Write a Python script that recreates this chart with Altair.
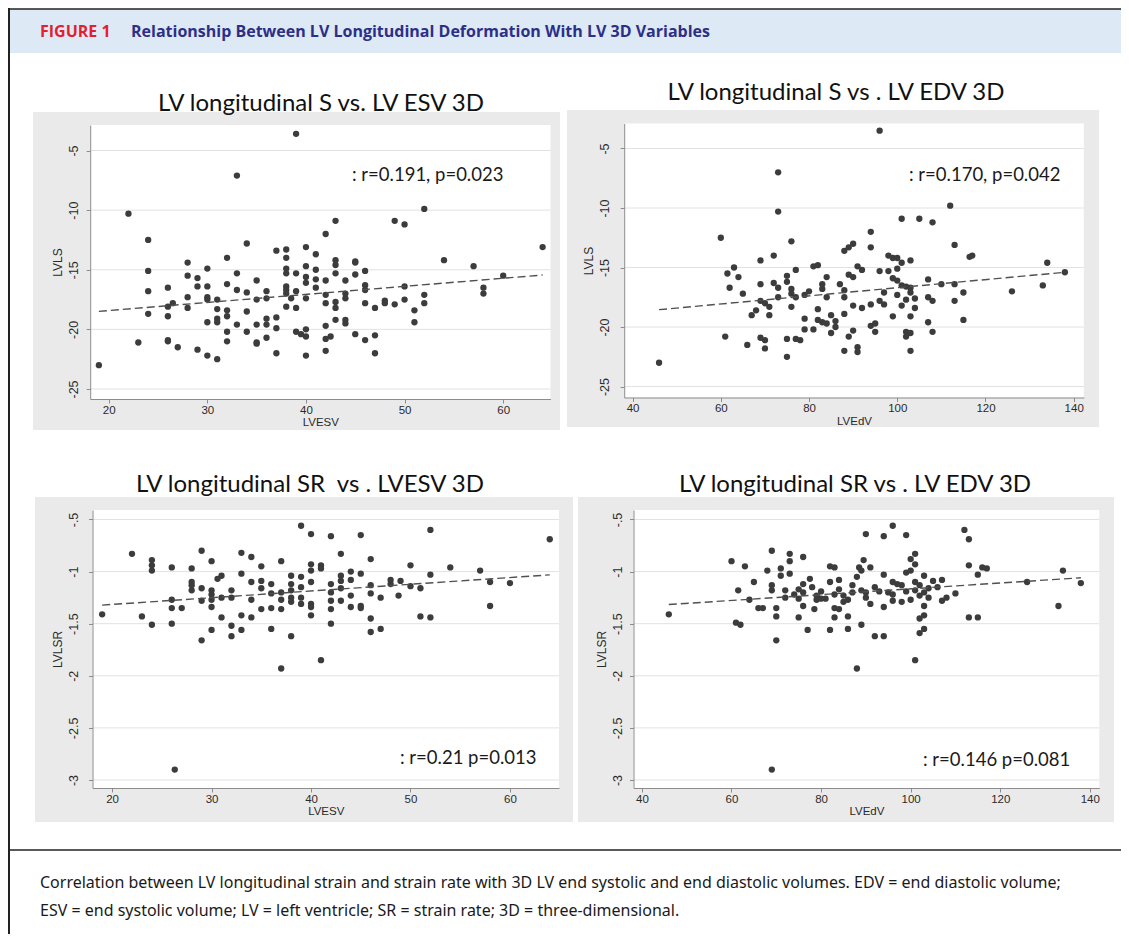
import altair as alt
import pandas as pd

W, H = 1113, 926
M = 8  # page margin: chart pixel = page pixel - M

# ---------------- data ----------------
xt_esv = [20, 30, 40, 50, 60]
xt_edv = [40, 60, 80, 100, 120, 140]
yt_ls = [-25, -20, -15, -10, -5]
yt_lsr = [-3, -2.5, -2, -1.5, -1, -0.5]

p1_esv = [
    19, 22, 23,
    24, 24, 24, 24,
    26, 26, 26, 26, 26, 26.5,
    27,
    28, 28, 28, 28,
    29, 29, 29,
    30, 30, 30, 30, 30, 30,
    31, 31, 31, 31, 31,
    32, 32, 32, 32, 32, 32,
    33, 33, 33, 33,
    34, 34, 34, 34,
    35, 35, 35, 35, 35,
    36, 36, 36, 36, 36,
    37, 37, 37, 37,
    38, 38, 38, 38, 38, 38, 38, 38, 38.5,
    39, 39, 39, 39, 39, 39.5,
    40, 40, 40, 40, 40, 40, 40, 40,
    41, 41, 41, 41,
    42, 42, 42, 42, 42, 42, 42, 42.5,
    43, 43, 43, 43, 43, 43, 43,
    44, 44, 44, 44, 44,
    45, 45, 45, 45,
    46, 46, 46, 46, 46,
    47, 47, 47,
    48, 48, 49, 49,
    50, 50, 50, 51, 51,
    52, 52, 52,
    54, 57, 58, 58, 60, 64,
]
p1_lvls = [
    -23.0, -10.3, -21.1,
    -12.5, -15.1, -16.8, -18.7,
    -16.5, -18.1, -18.9, -20.9, -21.0, -17.8,
    -21.5,
    -14.4, -15.5, -17.3, -18.2,
    -15.7, -16.4, -21.7,
    -14.9, -16.4, -17.3, -17.5, -19.4, -22.2,
    -17.5, -18.3, -19.1, -19.4, -22.5,
    -14.0, -16.2, -18.4, -18.9, -20.2, -21.0,
    -7.1, -15.3, -16.7, -19.6,
    -12.8, -16.9, -18.5, -20.2,
    -15.9, -17.5, -19.6, -21.1, -21.2,
    -16.8, -17.4, -19.1, -19.6, -20.7,
    -13.4, -19.0, -19.9, -22.0,
    -13.3, -14.0, -14.9, -15.3, -16.4, -16.7, -17.0, -18.1, -17.4,
    -3.6, -15.3, -16.8, -18.2, -20.2, -20.4,
    -13.1, -14.7, -15.6, -16.1, -17.4, -20.0, -20.6, -22.2,
    -13.7, -15.0, -15.8, -16.5,
    -12.0, -15.9, -17.1, -17.8, -19.7, -20.8, -21.8, -20.6,
    -10.9, -14.2, -14.6, -15.3, -17.7, -18.2, -19.2,
    -15.9, -17.0, -17.4, -19.2, -19.5,
    -14.3, -14.4, -15.4, -20.4,
    -15.1, -16.3, -16.7, -17.8, -20.9,
    -18.2, -20.5, -22.0,
    -17.6, -17.8, -10.9, -17.9,
    -11.2, -16.4, -17.5, -18.4, -19.4,
    -9.9, -17.1, -17.8,
    -14.2, -14.7, -16.5, -17.0, -15.5, -13.1,
]

p2_edv = [
    46, 60, 61, 61.5, 62, 63, 64, 65, 66, 67, 68,
    69, 69, 69, 69,
    70, 70, 70,
    71, 71, 72, 72,
    73, 73, 73, 73,
    75, 75, 75, 75,
    76, 76, 76, 76,
    77, 77, 77, 78,
    79, 79, 79, 80,
    81, 81, 82, 82, 82,
    83, 83, 83, 84, 84, 84,
    85, 85, 86, 86, 87,
    88, 88, 88, 88, 88,
    89, 89, 89,
    90, 90, 90, 90,
    91, 91, 91, 92, 92,
    94, 94, 94, 94, 95, 95,
    96, 96, 96, 97, 97, 98, 98,
    99, 99, 99,
    100, 100, 100, 100,
    101, 101, 101, 101,
    102, 102, 102, 102,
    103, 103, 103, 103, 103, 103,
    104, 104, 105,
    107, 107, 107, 108, 108, 108,
    110, 112, 113, 113, 113,
    115, 115, 116.4, 117,
    126, 133, 134, 138,
]
p2_lvls = [
    -23.0, -12.5, -20.8, -15.5, -16.7, -15.0, -15.8, -17.2, -21.5, -19.0, -18.6,
    -14.4, -16.4, -17.8, -20.9,
    -18.0, -21.1, -21.8,
    -18.3, -19.0, -14.0, -16.3,
    -7.0, -10.3, -16.7, -17.5,
    -15.7, -16.2, -21.0, -22.5,
    -12.8, -16.8, -17.2, -18.3,
    -15.2, -17.5, -21.0, -21.1,
    -17.3, -19.3, -20.2, -17.0,
    -14.9, -20.2, -14.8, -18.5, -19.4,
    -16.4, -16.8, -19.6, -15.8, -17.5, -19.7,
    -19.0, -20.5, -19.5, -20.0, -16.4,
    -13.6, -16.9, -17.5, -18.9, -22.0,
    -13.3, -15.6, -20.8,
    -13.0, -15.8, -18.2, -20.3,
    -14.9, -21.7, -22.1, -15.2, -18.4,
    -12.0, -13.3, -18.1, -19.9, -19.7, -20.4,
    -3.5, -15.3, -17.8, -17.1, -18.1, -14.0, -15.3,
    -14.2, -15.9, -19.1,
    -14.2, -15.1, -16.1, -17.3,
    -10.9, -14.6, -16.5, -18.2,
    -16.6, -17.7, -20.4, -20.8,
    -14.4, -16.7, -17.1, -19.1, -20.5, -22.0,
    -17.6, -18.4, -10.9,
    -16.0, -17.5, -19.6, -11.2, -17.8, -20.4,
    -16.4, -9.8, -13.1, -16.4, -17.8,
    -17.1, -19.4, -14.1, -14.0,
    -17.0, -16.5, -14.6, -15.4,
]

p3_esv = [
    19, 22, 23,
    24, 24, 24, 24,
    26, 26, 26, 26, 26.3, 27,
    28, 28, 28, 28,
    29, 29, 29, 29,
    30, 30, 30, 30, 30, 30, 30.6,
    31, 31, 31,
    32, 32, 32, 32,
    33, 33, 33, 33,
    34, 34, 34, 34,
    35, 35, 35, 35,
    36, 36, 36, 36,
    37, 37, 37, 37, 37,
    38, 38, 38, 38, 38, 38,
    39, 39, 39, 39, 39,
    40, 40, 40, 40, 40, 40, 40,
    41, 41, 41,
    42, 42, 42, 42, 42, 42,
    43, 43, 43, 43, 43,
    44, 44, 44, 44,
    45, 45, 45, 45,
    46, 46, 46, 46, 46,
    47, 47, 48, 48, 48.8, 49,
    50, 50, 51, 51,
    52, 52, 52,
    54, 57, 58, 58, 60, 64,
]
p3_lvlsr = [
    -1.41, -0.83, -1.43,
    -0.89, -0.94, -0.99, -1.51,
    -0.96, -1.27, -1.35, -1.50, -2.90, -1.35,
    -0.97, -1.10, -1.13, -1.18,
    -0.80, -1.16, -1.28, -1.66,
    -0.90, -1.18, -1.22, -1.27, -1.34, -1.56, -1.07,
    -1.04, -1.25, -1.44,
    -1.18, -1.25, -1.52, -1.62,
    -0.82, -1.02, -1.42, -1.56,
    -0.86, -1.10, -1.27, -1.44,
    -0.95, -1.09, -1.16, -1.36,
    -1.12, -1.21, -1.35, -1.55,
    -0.90, -1.20, -1.27, -1.36, -1.93,
    -1.04, -1.12, -1.18, -1.25, -1.29, -1.62,
    -0.56, -1.05, -1.15, -1.25, -1.31,
    -0.64, -0.93, -0.99, -1.10, -1.31, -1.34, -1.42,
    -0.94, -0.97, -1.85,
    -0.66, -1.12, -1.20, -1.28, -1.36, -1.50,
    -0.83, -1.04, -1.09, -1.16, -1.28,
    -1.00, -1.08, -1.23, -1.34,
    -0.65, -1.02, -1.33, -1.35,
    -0.88, -1.13, -1.21, -1.45, -1.58,
    -1.25, -1.55, -1.08, -1.12, -1.23, -1.09,
    -0.94, -1.14, -1.16, -1.43,
    -0.60, -1.03, -1.44,
    -0.96, -0.99, -1.10, -1.33, -1.11, -0.69,
]

p4_edv = [
    46, 60, 61, 61.5, 62, 63, 64, 65, 66, 67, 68,
    69, 69, 69, 69,
    70, 70, 70, 71, 71, 72, 72,
    73, 73, 73, 74,
    75, 75, 75, 76, 76, 76, 76,
    77, 77.5, 78, 78.5, 79, 79, 80, 80, 81,
    82, 82, 82, 83, 83, 83, 83,
    84, 84, 84, 85, 85, 86, 86, 86,
    87, 87, 88, 88, 88.5,
    89, 89, 89, 89.5, 90, 90, 90,
    91, 91, 92, 92, 93,
    94, 94, 94, 94, 95, 96, 96, 96, 96,
    97, 98, 98, 99, 99, 99,
    100, 100, 100, 101, 101, 101, 101, 101,
    102, 102, 102, 102, 103, 103, 103, 103, 103,
    104, 104, 105, 106, 107, 107, 108, 110,
    112, 113, 113, 113, 115, 115, 116, 117,
    126, 133, 134, 138,
]
p4_lvlsr = [
    -1.41, -0.90, -1.49, -1.18, -1.51, -0.95, -1.27, -1.10, -1.35, -1.35, -0.99,
    -0.80, -1.13, -1.18, -2.90,
    -1.35, -1.43, -1.66, -0.97, -1.04, -1.18, -1.25,
    -0.83, -0.90, -1.02, -1.22,
    -1.17, -1.26, -1.44, -0.86, -1.12, -1.20, -1.33,
    -1.56, -1.07, -1.15, -1.36, -1.27, -1.23, -1.19, -1.26, -1.26,
    -0.95, -1.10, -1.56, -0.96, -1.22, -1.35, -1.44,
    -1.08, -1.17, -1.36, -1.23, -1.29, -1.27, -1.43, -1.55,
    -1.13, -1.20, -1.05, -1.93, -0.96,
    -0.99, -1.18, -1.51, -0.89, -0.64, -1.20, -1.25,
    -0.96, -1.31, -1.15, -1.62, -1.19,
    -0.66, -1.03, -1.34, -1.62, -1.20, -0.56, -1.10, -1.22, -1.28,
    -1.12, -1.13, -1.29, -0.65, -1.01, -1.19,
    -0.88, -0.99, -1.27, -0.83, -0.93, -1.10, -1.18, -1.85,
    -1.13, -1.23, -1.45, -1.59, -1.04, -1.20, -1.33, -1.42, -1.55,
    -1.16, -1.25, -1.09, -1.15, -1.08, -1.28, -1.25, -1.21,
    -0.60, -0.69, -0.94, -1.44, -1.03, -1.44, -0.96, -0.97,
    -1.10, -1.33, -0.99, -1.11,
]

titles = [
    "LV longitudinal S vs. LV ESV 3D",
    "LV longitudinal S vs . LV EDV 3D",
    "LV longitudinal SR \u00a0vs . LVESV 3D",
    "LV longitudinal SR vs . LV EDV 3D",
]
notes = [": r=0.191, p=0.023", ": r=0.170, p=0.042", ": r=0.21 p=0.013", ": r=0.146 p=0.081"]
header_tag = "FIGURE 1"
header_title = "Relationship Between LV Longitudinal Deformation With LV 3D Variables"
caption = [
    "Correlation between LV longitudinal strain and strain rate with 3D LV end systolic and end diastolic volumes. EDV = end diastolic volume;",
    "ESV = end systolic volume; LV = left ventricle; SR = strain rate; 3D = three-dimensional.",
]

# ---------------- style / layout (page pixels) ----------------
GRAY = "#eaeaea"
AXC = "#8c8c8c"
PTC = "#3c3c3c"
AXFONT = "Liberation Sans"
TFONT = "Lato"

geo = [
    dict(gray=(33, 560, 112, 430), px=(90.2, 550.5), py=(125, 399), xdom=[18.12, 64.80], ydom=[-25.84, -2.86],
         title=(321, 111), note=(352, 174.9), lpad=6),
    dict(gray=(567, 1099, 110, 427), px=(624.2, 1083.8), py=(123.5, 397.5), xdom=[38.10, 142.29], ydom=[-25.92, -2.90],
         title=(836, 100), note=(909, 174.9), lpad=9),
    dict(gray=(35, 573, 497, 822), px=(92.5, 559), py=(510, 788), xdom=[18.03, 64.93], ydom=[-3.077, -0.409],
         title=(310, 492), note=(400, 757.6), lpad=8),
    dict(gray=(578, 1114, 497, 822), px=(633.5, 1099.3), py=(510, 788), xdom=[38.12, 142.12], ydom=[-3.077, -0.409],
         title=(855, 492), note=(923, 759.6), lpad=5),
]


def one():
    return pd.DataFrame({"k": [0]})


def box(x0, x1, y0, y1, color):
    return alt.Chart(one()).mark_rect(color=color).encode(
        x=alt.value(x0 - M), x2=alt.value(x1 - M), y=alt.value(y0 - M), y2=alt.value(y1 - M))


def rule(x0, x1, y0, y1, color="#222222", w=1.5):
    return alt.Chart(one()).mark_rule(color=color, strokeWidth=w).encode(
        x=alt.value(x0 - M), x2=alt.value(x1 - M), y=alt.value(y0 - M), y2=alt.value(y1 - M))


def label(s, x, y, size, font, color="#111111", weight="normal", align="left", baseline="alphabetic"):
    return alt.Chart(one()).mark_text(text=s, font=font, fontSize=size, fontWeight=weight, color=color,
                                      align=align, baseline=baseline).encode(
        x=alt.value(x - M), y=alt.value(y - M))


def panel(xv, yv, g, xticks, yticks, xtitle, ytitle, title, note):
    df = pd.DataFrame({"x": xv, "y": yv})
    x0, x1 = g["px"]
    y0, y1 = g["py"]
    sx = alt.Scale(domain=g["xdom"], range=[x0 - M, x1 - M], nice=False, zero=False)
    sy = alt.Scale(domain=g["ydom"], range=[y1 - M, y0 - M], nice=False, zero=False)
    gx0, gx1, gy0, gy1 = g["gray"]
    out = [box(gx0, gx1, gy0, gy1, GRAY), box(x0, x1, y0, y1, "#ffffff")]
    out.append(
        alt.Chart(pd.DataFrame({"v": yticks})).mark_rule(color="#e2e2e2", strokeWidth=1).encode(
            y=alt.Y("v:Q", scale=sy, axis=None), x=alt.value(x0 - M), x2=alt.value(x1 - M)))
    xaxis = alt.Axis(orient="bottom", offset=(y1 - M) - H, values=xticks, title=xtitle, grid=False, zindex=1,
                     domainColor=AXC, tickColor=AXC, tickSize=4, labelFont=AXFONT, labelFontSize=11.5,
                     labelColor="#2a2a2a", labelPadding=1, labelFlush=False, titleFont=AXFONT,
                     titleFontSize=11.5, titleFontWeight="normal", titleColor="#2a2a2a", titlePadding=1)
    yaxis = alt.Axis(orient="left", offset=-(x0 - M), values=yticks, title=ytitle, grid=False, zindex=1,
                     domainColor=AXC, tickColor=AXC, tickSize=4, labelFont=AXFONT, labelFontSize=12.5,
                     labelColor="#2a2a2a", labelAngle=270, labelAlign="center", labelBaseline="bottom",
                     labelPadding=g["lpad"], labelFlush=False,
                     labelExpr="replace(toString(datum.value), '-0.', '-.')",
                     titleFont=AXFONT, titleFontSize=12, titleFontWeight="normal", titleColor="#2a2a2a",
                     titlePadding=3)
    out.append(alt.Chart(df).mark_circle(size=40, color=PTC, opacity=1).encode(
        x=alt.X("x:Q", scale=sx, axis=xaxis), y=alt.Y("y:Q", scale=sy, axis=yaxis)))
    out.append(alt.Chart(df).transform_regression("x", "y").mark_line(
        color="#505050", strokeDash=[8, 4], strokeWidth=1.4).encode(
        x=alt.X("x:Q", scale=sx, axis=None), y=alt.Y("y:Q", scale=sy, axis=None)))
    out.append(label(title, g["title"][0], g["title"][1], 24, TFONT, color="#111111", align="center"))
    out.append(label(note, g["note"][0], g["note"][1], 18.5, TFONT, color="#1a1a1a", baseline="middle"))
    return out


layers = []
# header band and frame
layers.append(box(9, W + M, 9, 53, "#dde9f5"))
layers.append(rule(9, W + M, 9, 9, w=1.5))
layers.append(rule(9, 9, 8, H + M, w=2))
layers.append(rule(9, W + M, 850, 850, w=1.5))
layers.append(label(header_tag, 40, 37, 16, "Open Sans", color="#e21f2f", weight="bold"))
layers.append(label(header_title, 131, 37, 16, "Open Sans", color="#2d2f87", weight="bold"))
layers.append(label(caption[0], 40, 888, 16, "Noto Sans", color="#1a1a1a"))
layers.append(label(caption[1], 40, 916, 16, "Noto Sans", color="#1a1a1a"))

layers += panel(p1_esv, p1_lvls, geo[0], xt_esv, yt_ls, "LVESV", "LVLS", titles[0], notes[0])
layers += panel(p2_edv, p2_lvls, geo[1], xt_edv, yt_ls, "LVEdV", "LVLS", titles[1], notes[1])
layers += panel(p3_esv, p3_lvlsr, geo[2], xt_esv, yt_lsr, "LVESV", "LVLSR", titles[2], notes[2])
layers += panel(p4_edv, p4_lvlsr, geo[3], xt_edv, yt_lsr, "LVEdV", "LVLSR", titles[3], notes[3])

chart = alt.layer(*layers).resolve_scale(x="independent", y="independent").resolve_axis(
    x="independent", y="independent").properties(
    width=W, height=H, autosize=alt.AutoSizeParams(type="none"), padding=0, background="white"
).configure_view(stroke=None)

chart.save("out.html", embed_options={"renderer": "svg", "actions": False})
